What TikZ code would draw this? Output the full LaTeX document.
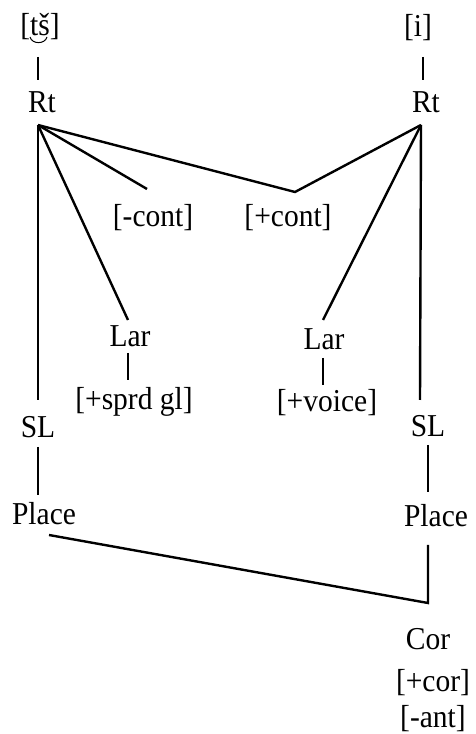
\documentclass[tikz,border=0pt]{standalone}
\usepackage{fontspec}
\setmainfont{Liberation Serif}
\newcommand\vsText[1]{\scalebox{1}[1.08]{#1}}
\begin{document}
\begin{tikzpicture}[x=1pt,y=1pt,
  lbl/.style={anchor=base,inner sep=0pt,font=\fontsize{29.5}{35}\selectfont},
  edge/.style={line width=2.4pt},
  tick/.style={line width=2pt}]
\useasboundingbox (0,0) rectangle (475,734);
% nodes
\node[lbl] (ts) at (40,698) {\vsText{[tš]}};
\node[lbl] (i) at (418,697) {\vsText{[i]}};
\node[lbl] (rtL) at (42,621) {\vsText{Rt}};
\node[lbl] (rtR) at (426,621) {\vsText{Rt}};
\node[lbl] (mcont) at (153,507) {\vsText{[-cont]}};
\node[lbl] (pcont) at (288,507) {\vsText{[+cont]}};
\node[lbl] (larL) at (130,387) {\vsText{Lar}};
\node[lbl] (larR) at (324,384) {\vsText{Lar}};
\node[lbl] (sprd) at (134,324) {\vsText{[+sprd gl]}};
\node[lbl] (voice) at (327,322) {\vsText{[+voice]}};
\node[lbl] (slL) at (38,296) {\vsText{SL}};
\node[lbl] (slR) at (428,297) {\vsText{SL}};
\node[lbl] (plL) at (44,209) {\vsText{Place}};
\node[lbl] (plR) at (436,207) {\vsText{Place}};
\node[lbl] (cor) at (428,84) {\vsText{Cor}};
\node[lbl] (pcor) at (433,42) {\vsText{[+cor]}};
\node[lbl] (mant) at (433,6) {\vsText{[-ant]}};
% tie under tš
\draw[line width=1pt] (30,697) .. controls (32,689.5) and (45,689.5) .. (47,697);
% coordinates
\coordinate (tsB) at (38,677);
\coordinate (rtLT) at (38,654);
\coordinate (iB) at (423,677);
\coordinate (rtRT) at (423,654);
\coordinate (rootL) at (38,609);
\coordinate (rootR) at (421,609);
\coordinate (larLT) at (128,414);
\coordinate (mcontT) at (147,545);
\coordinate (apex) at (295,542);
\coordinate (larRT) at (323,414);
\coordinate (slLT) at (38,334);
\coordinate (slRT) at (420,334);
\coordinate (larLB) at (128,381);
\coordinate (sprdT) at (128,354);
\coordinate (larRB) at (323,376);
\coordinate (voiceT) at (323,349);
\coordinate (slLB) at (38,287);
\coordinate (plLT) at (38,239);
\coordinate (slRB) at (428,289);
\coordinate (plRT) at (428,242);
\coordinate (plLE) at (49,199);
\coordinate (plRB) at (428,189);
\coordinate (corT) at (428,131);
% connectors
\draw[tick] (tsB) -- (rtLT);
\draw[tick] (iB) -- (rtRT);
\draw[edge] (rootL) -- (larLT);
\draw[edge] (rootL) -- (mcontT);
\draw[edge] (rootL) -- (apex) -- (rootR);
\draw[edge] (rootR) -- (larRT);
\draw[edge] (rootL) -- (slLT);
\draw[edge] (rootR) -- (slRT);
\draw[tick] (larLB) -- (sprdT);
\draw[tick] (larRB) -- (voiceT);
\draw[tick] (slLB) -- (plLT);
\draw[tick] (slRB) -- (plRT);
\draw[edge] (plLE) -- (corT) -- (plRB);
\end{tikzpicture}
\end{document}
